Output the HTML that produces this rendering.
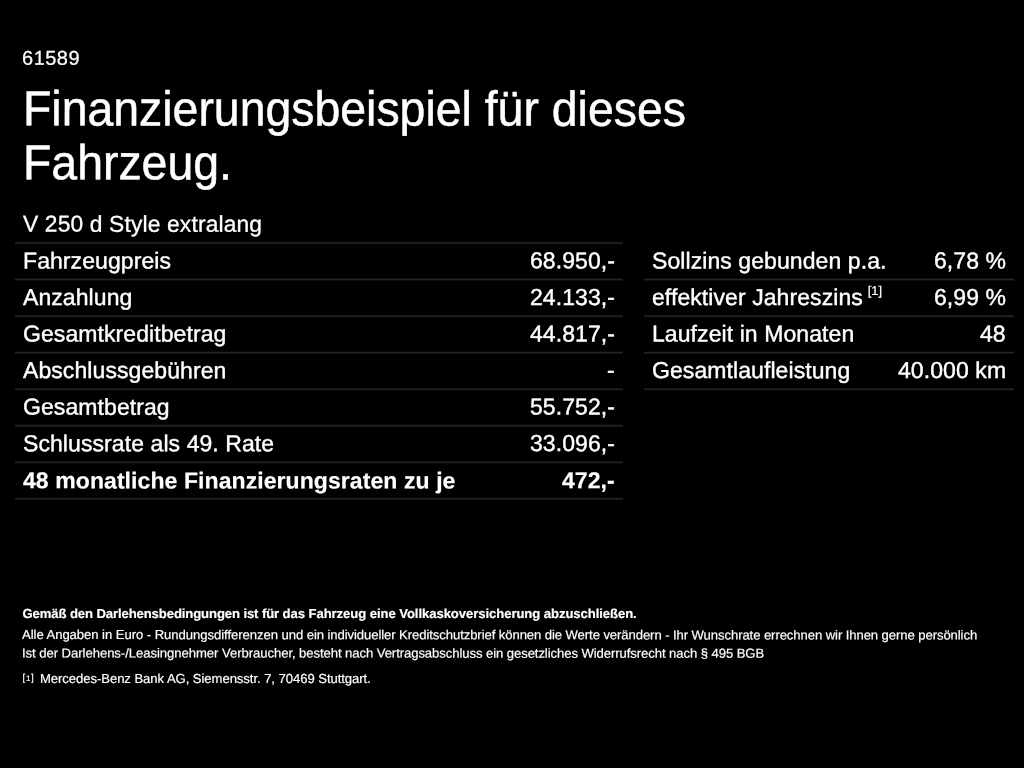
<!DOCTYPE html>
<html lang="de">
<head>
<meta charset="utf-8">
<title>Finanzierungsbeispiel</title>
<style>
html,body{margin:0;padding:0;background:#000;}
body{width:1024px;height:768px;position:relative;overflow:hidden;color:#fff;font-family:"Liberation Sans",Arial,Helvetica,sans-serif;text-rendering:geometricPrecision;}
.t{position:absolute;white-space:nowrap;line-height:1;margin:0;}
.id{left:22px;top:49px;font-size:20px;letter-spacing:.5px;-webkit-text-stroke:.25px #fff;transform-origin:0 100%;transform:translateY(-.2px) rotate(.03deg);}
h1{font-weight:normal;font-size:49px;left:22.5px;transform-origin:0 100%;-webkit-text-stroke:.5px #fff;}
.h1a{top:85px;transform:translateY(.35px) rotate(.03deg) scaleX(.947);}
.h1b{top:139px;transform:translateY(.3px) rotate(.03deg) scaleX(.947);}
.model{left:22.9px;top:212px;font-size:22.8px;letter-spacing:.15px;-webkit-text-stroke:.3px #fff;transform-origin:0 100%;transform:translateY(.6px) rotate(.03deg);}
.row{position:absolute;height:36px;font-size:23px;letter-spacing:.08px;-webkit-text-stroke:.4px #fff;}
.row.b{-webkit-text-stroke:.2px #fff;}
.row .l{position:absolute;left:7.9px;top:0;line-height:1;white-space:nowrap;transform-origin:0 100%;transform:translateY(var(--ty)) rotate(.03deg);}
.row .v{position:absolute;right:8.1px;top:0;line-height:1;white-space:nowrap;transform-origin:100% 100%;transform:translateY(var(--ty)) rotate(.03deg);}
.L{left:15px;width:608px;}
.R{left:644px;width:370px;}
.ln{position:absolute;height:1px;}
.lL{left:15px;width:608px;}
.lR{left:644px;width:370px;}
.b{font-weight:bold;}
.fn{font-size:12.8px;letter-spacing:0;position:relative;top:-10.2px;margin-left:4.8px;-webkit-text-stroke:.2px #fff;}
.f{font-size:13.1px;left:22.5px;letter-spacing:-.083px;-webkit-text-stroke:.2px #fff;}
.fn2{display:inline-block;width:13.9px;font-size:9.9px;letter-spacing:.7px;position:relative;top:-2.2px;left:0;-webkit-text-stroke:.15px #fff;}
.r{transform-origin:50% 100%;}
.fn2 i{font-style:normal;font-size:8px;}
</style>
</head>
<body>
<div class="t id">61589</div>
<h1 class="t h1a">Finanzierungsbeispiel für dieses</h1>
<h1 class="t h1b">Fahrzeug.</h1>
<div class="t model">V 250 d Style extralang</div>

<div class="row L" style="top:249.8px;--ty:-0.6px"><span class="l">Fahrzeugpreis</span><span class="v">68.950,-</span></div>
<div class="row L" style="top:285.8px;--ty:-0.05px"><span class="l">Anzahlung</span><span class="v">24.133,-</span></div>
<div class="row L" style="top:322.8px;--ty:-0.5px"><span class="l">Gesamtkreditbetrag</span><span class="v">44.817,-</span></div>
<div class="row L" style="top:358.8px;--ty:0.05px"><span class="l">Abschlussgebühren</span><span class="v">-</span></div>
<div class="row L" style="top:395.8px;--ty:-0.4px"><span class="l">Gesamtbetrag</span><span class="v">55.752,-</span></div>
<div class="row L" style="top:431.8px;--ty:0.15px"><span class="l">Schlussrate als 49. Rate</span><span class="v">33.096,-</span></div>
<div class="row L b" style="top:468.8px;--ty:0.35px"><span class="l">48 monatliche Finanzierungsraten zu je</span><span class="v">472,-</span></div>

<div class="row R" style="top:249.8px;--ty:-0.6px"><span class="l">Sollzins gebunden p.a.</span><span class="v">6,78 %</span></div>
<div class="row R" style="top:285.8px;--ty:-0.05px"><span class="l">effektiver Jahreszins<span class="fn">[1]</span></span><span class="v">6,99 %</span></div>
<div class="row R" style="top:322.8px;--ty:-0.5px"><span class="l">Laufzeit in Monaten</span><span class="v">48</span></div>
<div class="row R" style="top:358.8px;--ty:0.05px"><span class="l">Gesamtlaufleistung</span><span class="v">40.000 km</span></div>

<!-- separator lines (soft, sub-pixel positions emulated with several 1px rows) -->
<div class="ln lL" style="top:241px;background:#030303"></div><div class="ln lL" style="top:242px;background:#1d1d1d"></div><div class="ln lL" style="top:243px;background:#1d1d1d"></div><div class="ln lL" style="top:244px;background:#030303"></div>
<div class="ln lL" style="top:278px;background:#0c0c0c"></div><div class="ln lL" style="top:279px;background:#252525"></div><div class="ln lL" style="top:280px;background:#0e0e0e"></div>
<div class="ln lL" style="top:315px;background:#1a1a1a"></div><div class="ln lL" style="top:316px;background:#1f1f1f"></div><div class="ln lL" style="top:317px;background:#050505"></div>
<div class="ln lL" style="top:351px;background:#090909"></div><div class="ln lL" style="top:352px;background:#242424"></div><div class="ln lL" style="top:353px;background:#121212"></div>
<div class="ln lL" style="top:388px;background:#161616"></div><div class="ln lL" style="top:389px;background:#222222"></div><div class="ln lL" style="top:390px;background:#060606"></div>
<div class="ln lL" style="top:424px;background:#070707"></div><div class="ln lL" style="top:425px;background:#232323"></div><div class="ln lL" style="top:426px;background:#151515"></div>
<div class="ln lL" style="top:461px;background:#131313"></div><div class="ln lL" style="top:462px;background:#232323"></div><div class="ln lL" style="top:463px;background:#080808"></div>
<div class="ln lL" style="top:497px;background:#050505"></div><div class="ln lL" style="top:498px;background:#212121"></div><div class="ln lL" style="top:499px;background:#181818"></div>
<div class="ln lR" style="top:278px;background:#0c0c0c"></div><div class="ln lR" style="top:279px;background:#252525"></div><div class="ln lR" style="top:280px;background:#0e0e0e"></div>
<div class="ln lR" style="top:315px;background:#1a1a1a"></div><div class="ln lR" style="top:316px;background:#1f1f1f"></div><div class="ln lR" style="top:317px;background:#050505"></div>
<div class="ln lR" style="top:351px;background:#090909"></div><div class="ln lR" style="top:352px;background:#242424"></div><div class="ln lR" style="top:353px;background:#121212"></div>
<div class="ln lR" style="top:388px;background:#161616"></div><div class="ln lR" style="top:389px;background:#222222"></div><div class="ln lR" style="top:390px;background:#060606"></div>

<div class="t f b" style="top:607px"><span style="letter-spacing:-.103px">Gemäß den Darlehensbedingungen ist für </span><span style="letter-spacing:-.068px">das Fahrzeug eine Vollkaskoversicherung abzuschließen.</span></div>
<div class="t f r" style="top:628px;left:21.9px;transform:translateY(.3px) rotate(.03deg)"><span style="letter-spacing:-.053px">Alle Angaben in Euro - Rundungsdifferenzen </span>und ein individueller Kreditschutzbrief können die Werte verändern - Ihr Wunschrate errechnen wir Ihnen gerne persönlich</div>
<div class="t f r" style="top:647px;left:22.1px;transform:translateY(-.4px) rotate(.03deg)"><span style="letter-spacing:-.05px">Ist der Darlehens-/Leasingnehmer Verbrauch</span><span style="letter-spacing:-.077px">er, besteht nach Vertragsabschluss ein gesetzliches Widerrufsrecht nach § 495 BGB</span></div>
<div class="t f" style="top:672px"><span class="fn2">[<i>1</i>]</span> <span style="letter-spacing:-.061px">Mercedes-Benz Bank AG, Siemensstr. 7, 70469 Stuttgart.</span></div>
</body>
</html>
